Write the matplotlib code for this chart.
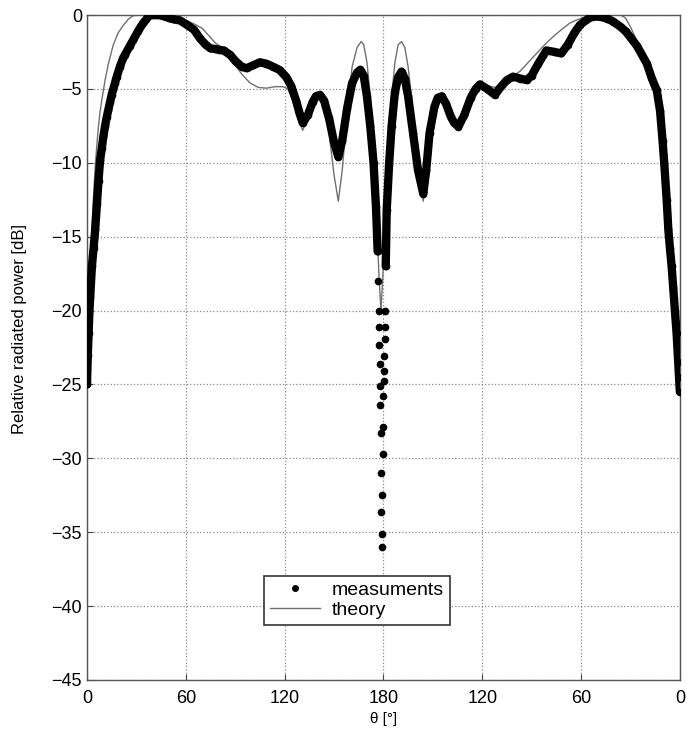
import numpy as np
import matplotlib
matplotlib.use("Agg")
import matplotlib.pyplot as plt
from matplotlib.lines import Line2D

plt.rcParams["font.family"] = ["Liberation Sans", "DejaVu Sans"]

# ── data ─────────────────────────────────────────────────
meas_theta = [0, 0.5, 1, 1.5, 2, 3, 4, 5, 6, 7, 8, 9, 10, 11, 12, 13, 14, 15, 16, 17, 18,
              20, 22, 23, 26, 28, 31, 34, 36, 38, 40, 42, 44, 47, 50.4, 53, 56.5, 60.5,
              65, 68.6, 72, 75, 78, 80, 83, 87, 90, 94, 97, 101, 105, 109, 113, 117,
              121, 124, 127, 129, 131, 134, 137, 139, 141.5, 144, 147, 150, 152.6, 155,
              158, 161, 164, 166, 168, 170, 172, 174, 175.5, 176.5,
              176.8, 177.1, 177.3, 177.5, 177.7, 177.9, 178.1, 178.3, 178.5, 178.7, 178.9,
              179.1, 179.3, 179.5, 179.7, 179.9, 180.1, 180.3, 180.5, 180.7, 180.9, 181.1,
              181.4, 182, 183.5, 185, 187, 189, 191, 193, 195, 198, 201, 204.2, 206, 208,
              211, 213, 215.4, 218, 221, 223, 225.5, 229, 233, 236, 238.6, 243, 247.7, 251,
              255, 258.8, 263, 267, 270, 274, 279, 284, 288, 292, 296, 299.3, 303, 306,
              309.5, 313, 316, 319.6, 324, 327, 329.7, 334, 337, 340, 343, 346, 348, 349.5,
              350.5, 352, 353, 354, 355, 356, 357, 358, 359, 359.5, 360]
meas_db = [-25, -23, -21.5, -20, -19, -17, -15.8, -14.5, -12.8, -11.2, -9.8, -9.0, -8.2,
           -7.5, -6.9, -6.4, -5.9, -5.4, -5.0, -4.6, -4.2, -3.5, -2.9, -2.7, -2.1, -1.7,
           -1.1, -0.56, -0.3, 0, 0, 0, 0, -0.1, -0.23, -0.3, -0.37, -0.65, -1.0, -1.58,
           -2.0, -2.26, -2.3, -2.35, -2.4, -2.7, -3.1, -3.5, -3.6, -3.4, -3.2, -3.3, -3.5,
           -3.72, -4.2, -4.8, -5.8, -6.6, -7.3, -6.8, -5.9, -5.5, -5.4, -5.8, -7.0, -8.6,
           -9.6, -8.5, -6.3, -4.6, -3.9, -3.7, -4.1, -5.5, -7.5, -10, -13, -16,
           -18, -20, -21.1, -22.3, -23.6, -25.1, -26.4, -28.3, -31.0, -33.6, -36.0,
           -35.1, -32.5, -29.7, -27.9, -25.8, -24.8, -24.1, -23.1, -21.9, -21.1, -20,
           -17, -13.2, -10, -7.5, -5.2, -4.2, -3.83, -4.3, -5.5, -8, -10.5, -12.1, -10.5,
           -8.0, -6.2, -5.6, -5.5, -6.0, -6.9, -7.3, -7.55, -6.8, -5.6, -5.0, -4.7, -5.0,
           -5.4, -4.9, -4.4, -4.17, -4.3, -4.4, -4.1, -3.3, -2.4, -2.5, -2.6, -2.0, -1.2,
           -0.68, -0.35, -0.15, -0.1, -0.15, -0.25, -0.45, -0.8, -1.1, -1.47, -2.1, -2.7,
           -3.3, -4.3, -5.1, -6.5, -8.5, -10, -12.5, -14.5, -15.8, -17, -18.5, -20, -21.5,
           -23.5, -24.5, -25.5]

theory_theta = [0, 1, 2, 3, 4, 5, 6, 7, 8, 9, 11, 13, 16, 19, 22, 25, 28, 31, 36, 40, 45,
                50, 55, 60, 65, 70, 74, 78, 82, 86, 90, 94, 99, 104, 109, 114, 119, 122,
                125, 128, 131, 134, 137, 141, 144, 147, 150, 152.6, 155, 158, 161, 164,
                166.5, 168, 170, 172, 174, 176, 177.5, 178.5, 179.5, 181, 183, 185, 187,
                189, 191, 193, 195, 197, 199, 201.5, 204.2, 206.5, 209, 211.5, 213.5,
                215.5, 218, 221, 225, 229, 233, 238, 243, 248, 253, 258, 263, 268, 273,
                278, 283, 288, 293, 297, 301, 305, 310, 318, 324, 327, 330, 332, 335, 338,
                341.8, 344, 346.7, 348.5, 350, 351, 352.5, 354, 356, 358, 360]
theory_db = [-25, -21, -17.5, -14.5, -12.2, -10.3, -8.8, -7.5, -6.5, -5.75, -4.4, -3.3,
             -2.0, -1.2, -0.7, -0.3, -0.05, 0, 0, -0.05, -0.1, -0.15, -0.25, -0.35, -0.6,
             -0.9, -1.4, -1.9, -2.2, -2.7, -3.4, -4.0, -4.6, -4.9, -4.95, -4.85, -4.85,
             -5.0, -5.8, -7.0, -7.8, -7.0, -5.9, -5.4, -6.0, -8.0, -10.8, -12.6, -10.5,
             -6.5, -3.5, -2.2, -1.8, -2.0, -3.2, -5.5, -9, -14.5, -18, -20, -18, -14.5,
             -9, -5.5, -3.2, -2.0, -1.8, -2.2, -3.5, -5.5, -8, -10.8, -12.6, -10.5, -8,
             -6.0, -5.4, -5.3, -5.7, -6.8, -7.6, -6.8, -5.6, -4.7, -4.8, -4.9, -4.6, -4.2,
             -3.8, -3.2, -2.6, -2.0, -1.47, -1.0, -0.56, -0.35, -0.2, -0.1, 0, 0, 0, -0.2,
             -0.8, -1.3, -2.0, -2.8, -3.5, -4.2, -5.0, -6.5, -8, -10, -12.5, -15, -18.5,
             -22, -25]

xticks = [0, 60, 120, 180, 240, 300, 360]
xticklabels = ["0", "60", "120", "180", "120", "60", "0"]

# ── plot ─────────────────────────────────────────────────
fig = plt.figure(figsize=(6.87, 7.43), dpi=100)
ax = fig.add_axes([0.1266, 0.0848, 0.863, 0.895])

mt = np.array(meas_theta)
md = np.array(meas_db)
band = np.where((mt > 176.6) & (mt < 181.2), np.nan, md)   # no band in the null

ax.plot(theory_theta, theory_db, color="#707070", lw=1.0, zorder=2)
ax.plot(mt, band, color="black", lw=6.0, solid_capstyle="round", zorder=3)
ax.plot(mt, md, ls="none", marker="o", ms=4.5, color="black", zorder=4)

ax.set_xlim(0, 360)
ax.set_ylim(-45, 0)
ax.set_xticks(xticks)
ax.set_xticklabels(xticklabels)
ax.set_yticks(np.arange(-45, 1, 5))
ax.tick_params(direction="in", length=4, labelsize=13, color="#444444")
ax.tick_params(axis="x", pad=7)
ax.grid(True, ls=":", color="#8a8a8a", lw=0.9)
for s in ax.spines.values():
    s.set_color("#555555")
    s.set_linewidth(1.0)

ax.set_ylabel("Relative radiated power [dB]", fontsize=12)
ax.yaxis.set_label_coords(-0.101, 0.528)
ax.set_xlabel("θ [°]", fontsize=11, labelpad=4)

handles = [Line2D([], [], ls="none", marker="o", ms=4, color="black"),
           Line2D([], [], color="#707070", lw=1.0)]
leg = ax.legend(handles, ["measuments", "theory"], loc="center",
                bbox_to_anchor=(0.455, 0.12), fontsize=14, fancybox=False,
                framealpha=1, edgecolor="#333333", handlelength=2.6,
                borderpad=0.3, labelspacing=0.1, handletextpad=0.6)
leg.get_frame().set_linewidth(1.2)

fig.savefig("out.png", dpi=100)
